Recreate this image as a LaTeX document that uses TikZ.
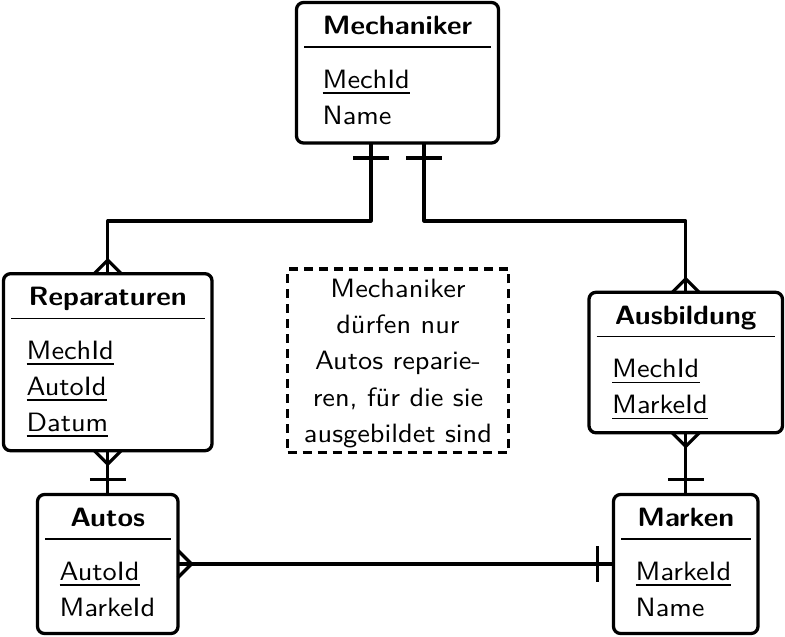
\documentclass[tikz,border=0pt]{standalone}
\usepackage{fontspec}
\setmainfont{lmsans10}[Extension=.otf, UprightFont=*-regular, BoldFont=*-bold, FakeStretch=1.07]
\newcommand\ulattr[1]{\draw[uln] ([yshift=-4.7pt]#1.base west) -- ([yshift=-4.7pt]#1.base east);}
\begin{document}
\begin{tikzpicture}[x=1pt,y=-1pt, line join=round,
  ent/.style={draw, line width=3.3pt, rounded corners=7pt, outer sep=0pt, inner sep=0pt, anchor=north west},
  notebox/.style={draw, line width=3.2pt, dash pattern=on 9pt off 6pt, outer sep=0pt, inner sep=0pt, anchor=north west},
  conn/.style={line width=3.2pt},
  ttl/.style={inner sep=0pt, anchor=base, font=\bfseries\fontsize{26.5}{30}\selectfont},
  att/.style={inner sep=0pt, anchor=base west, font=\fontsize{26.5}{30}\selectfont},
  txt/.style={inner sep=0pt, anchor=base, font=\fontsize{26.5}{30}\selectfont},
  rul/.style={line width=1.3pt},
  uln/.style={line width=1.6pt}]
\fill[white] (0,0) rectangle (785,637);
\useasboundingbox (0,0) rectangle (785,637);

% Mechaniker
\node[ent, minimum width=202pt, minimum height=140.5pt] (mech) at (296.5,2.5) {};
\node[ttl] (mechT) at ([yshift=-32pt]mech.north) {Mechaniker};
\draw[rul] ([xshift=7.5pt,yshift=-44.5pt]mech.north west) -- ([xshift=-7.5pt,yshift=-44.5pt]mech.north east);
\node[att] (mechA1) at ([xshift=26pt,yshift=-85.5pt]mech.north west) {MechId};
\node[att] (mechA2) at ([xshift=26pt,yshift=-121.5pt]mech.north west) {Name};
\ulattr{mechA1}

% Reparaturen
\node[ent, minimum width=208.5pt, minimum height=177pt] (rep) at (3.5,273.7) {};
\node[ttl] (repT) at ([yshift=-32pt]rep.north) {Reparaturen};
\draw[rul] ([xshift=7.5pt,yshift=-44.5pt]rep.north west) -- ([xshift=-7.5pt,yshift=-44.5pt]rep.north east);
\node[att] (repA1) at ([xshift=23pt,yshift=-85.5pt]rep.north west) {MechId};
\node[att] (repA2) at ([xshift=23pt,yshift=-121.5pt]rep.north west) {AutoId};
\node[att] (repA3) at ([xshift=23pt,yshift=-157.5pt]rep.north west) {Datum};
\ulattr{repA1}\ulattr{repA2}\ulattr{repA3}

% Ausbildung
\node[ent, minimum width=193.5pt, minimum height=140.5pt] (aus) at (589,292.3) {};
\node[ttl] (ausT) at ([yshift=-32pt]aus.north) {Ausbildung};
\draw[rul] ([xshift=7.5pt,yshift=-44.5pt]aus.north west) -- ([xshift=-7.5pt,yshift=-44.5pt]aus.north east);
\node[att] (ausA1) at ([xshift=23pt,yshift=-85.5pt]aus.north west) {MechId};
\node[att] (ausA2) at ([xshift=23pt,yshift=-121.5pt]aus.north west) {MarkeId};
\ulattr{ausA1}\ulattr{ausA2}

% Autos
\node[ent, minimum width=140.5pt, minimum height=139pt] (autos) at (37.5,494.5) {};
\node[ttl] (autosT) at ([yshift=-32pt]autos.north) {Autos};
\draw[rul] ([xshift=7.5pt,yshift=-44.5pt]autos.north west) -- ([xshift=-7.5pt,yshift=-44.5pt]autos.north east);
\node[att] (autosA1) at ([xshift=22pt,yshift=-85.5pt]autos.north west) {AutoId};
\node[att] (autosA2) at ([xshift=22pt,yshift=-121.5pt]autos.north west) {MarkeId};
\ulattr{autosA1}

% Marken
\node[ent, minimum width=144.5pt, minimum height=139pt] (marken) at (613.5,494.5) {};
\node[ttl] (markenT) at ([yshift=-32pt]marken.north) {Marken};
\draw[rul] ([xshift=7.5pt,yshift=-44.5pt]marken.north west) -- ([xshift=-7.5pt,yshift=-44.5pt]marken.north east);
\node[att] (markenA1) at ([xshift=22pt,yshift=-85.5pt]marken.north west) {MarkeId};
\node[att] (markenA2) at ([xshift=22pt,yshift=-121.5pt]marken.north west) {Name};
\ulattr{markenA1}

% Note
\node[notebox, minimum width=220.6pt, minimum height=183.7pt] (note) at (287.7,269) {};
\node[txt] (n1) at (398,297.3) {Mechaniker};
\node[txt] (n2) at (398,333.6) {dürfen nur};
\node[txt] (n3) at (398,369.9) {Autos reparie-};
\node[txt] (n4) at (398,406.2) {ren, für die sie};
\node[txt] (n5) at (398,442.5) {ausgebildet sind};

% Mechaniker -- Reparaturen
\draw[conn] ([xshift=-26.5pt]mech.south) -- ++(0,78) -| (rep.north);
\draw[conn] ([xshift=-44.5pt,yshift=-15pt]mech.south) -- ++(36,0);
\draw[conn] ([xshift=-13.5pt]rep.north) -- ([yshift=13.5pt]rep.north) -- ([xshift=13.5pt]rep.north);

% Mechaniker -- Ausbildung
\draw[conn] ([xshift=26.5pt]mech.south) -- ++(0,78) -| (aus.north);
\draw[conn] ([xshift=8.5pt,yshift=-15pt]mech.south) -- ++(36,0);
\draw[conn] ([xshift=-13.5pt]aus.north) -- ([yshift=13.5pt]aus.north) -- ([xshift=13.5pt]aus.north);

% Reparaturen -- Autos
\draw[conn] (rep.south) -- (autos.north);
\draw[conn] ([xshift=-13.5pt]rep.south) -- ([yshift=-13.5pt]rep.south) -- ([xshift=13.5pt]rep.south);
\draw[conn] ([xshift=-18pt,yshift=15pt]autos.north) -- ++(36,0);

% Ausbildung -- Marken
\draw[conn] (aus.south) -- (marken.north);
\draw[conn] ([xshift=-13.5pt]aus.south) -- ([yshift=-13.5pt]aus.south) -- ([xshift=13.5pt]aus.south);
\draw[conn] ([xshift=-18pt,yshift=15pt]marken.north) -- ++(36,0);

% Autos -- Marken
\draw[conn] (autos.east) -- (marken.west);
\draw[conn] ([yshift=13.5pt]autos.east) -- ([xshift=13.5pt]autos.east) -- ([yshift=-13.5pt]autos.east);
\draw[conn] ([xshift=-16pt,yshift=18pt]marken.west) -- ++(0,36);
\end{tikzpicture}
\end{document}
